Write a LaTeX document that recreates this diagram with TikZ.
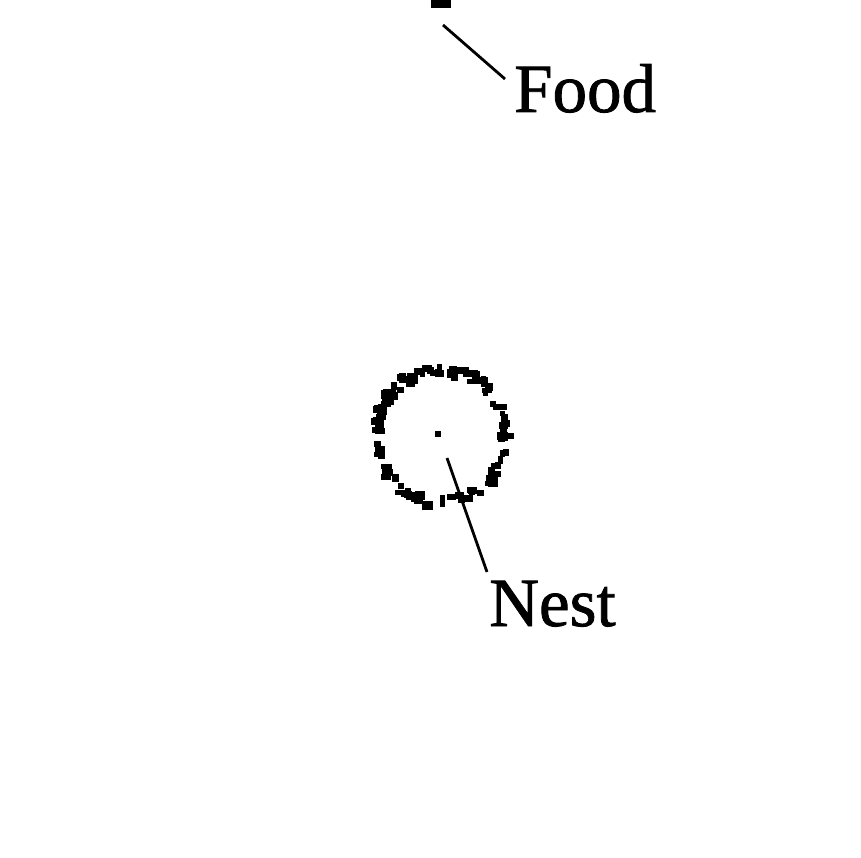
\documentclass[tikz,border=0pt]{standalone}
\usepackage{fontspec}
\setmainfont{Liberation Serif}
\newfontfamily\lblfont[FakeBold=1.2]{Liberation Serif}
\begin{document}
\begin{tikzpicture}[x=1pt,y=-1pt,
  lbl/.style={font=\lblfont\fontsize{69}{69}\selectfont, inner sep=0pt, anchor=base west},
  leader/.style={line width=2.8pt, black},
  ant/.style={fill=black, draw=none}]
\useasboundingbox (0,0) rectangle (861,858);
% food blob
\node[ant, minimum width=20pt, minimum height=9pt, inner sep=0pt] (foodblob) at (441,4) {};
\coordinate (fa) at (443,25);
\coordinate (fb) at (505,79);
\node[lbl] (food) at (514,112) {Food};
\draw[leader] (fa) -- (fb);
% nest
\node[ant, minimum size=6pt, inner sep=0pt] (nest) at (438,434) {};
\pgfmathsetseed{11}
\foreach \i in {1,...,120}{
  \pgfmathsetmacro\ang{rnd*360}
  \pgfmathsetmacro\rr{66+rnd*10-5}
  \pgfmathsetmacro\w{5+rnd*6}
  \pgfmathsetmacro\h{5+rnd*4}
  \fill[black] ({441+\rr*cos(\ang)-\w/2},{436+\rr*sin(\ang)-\h/2}) rectangle ++(\w,\h);
}
\coordinate (na) at (447,458);
\coordinate (nb) at (487,572);
\node[lbl] (nestlabel) at (489,626) {Nest};
\draw[leader] (na) -- (nb);
\end{tikzpicture}
\end{document}
